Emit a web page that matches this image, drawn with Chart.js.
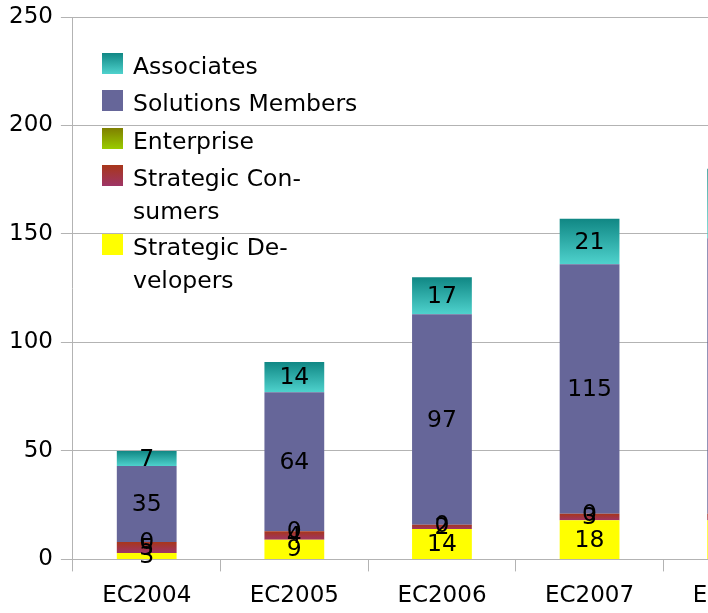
<!DOCTYPE html>
<html>
<head>
<meta charset="utf-8">
<script src="https://cdn.jsdelivr.net/npm/chart.js@4"></script>
<style>
  html, body { margin: 0; padding: 0; background: #fff; overflow: hidden; }
  #wrap { width: 708px; height: 613px; overflow: hidden; }
</style>
</head>
<body>
<div id="wrap"><canvas id="memberchart" width="830" height="613"></canvas></div>
<script>
const categories = ['EC2004', 'EC2005', 'EC2006', 'EC2007', 'EC2008'];
const developers = [3, 9, 14, 18, 18];
const consumers = [5, 4, 2, 3, 3];
const enterprise = [0, 0, 0, 0, 0];
const solutions = [35, 64, 97, 115, 127];
const associates = [7, 14, 17, 21, 32];
const yTicks = [0, 50, 100, 150, 200, 250];

const FONT = '"DejaVu Sans", sans-serif';
const series = [developers, consumers, enterprise, solutions, associates];

// vertical gradient over one stacked segment
function segGradient(top, bottom) {
  return function (ctx) {
    const chart = ctx.chart;
    const y = chart.scales && chart.scales.y;
    if (!y || ctx.dataIndex === undefined) return bottom;
    let base = 0;
    for (let i = 0; i < ctx.datasetIndex; i++) base += series[i][ctx.dataIndex];
    const y0 = y.getPixelForValue(base + series[ctx.datasetIndex][ctx.dataIndex]);
    const y1 = y.getPixelForValue(base);
    if (!isFinite(y0) || !isFinite(y1) || y0 === y1) return bottom;
    const g = chart.ctx.createLinearGradient(0, y0, 0, y1);
    g.addColorStop(0, top);
    g.addColorStop(1, bottom);
    return g;
  };
}

const legendItems = [
  { lines: ['Associates'], top: '#108784', bottom: '#4fd2cd', y: 53 },
  { lines: ['Solutions Members'], top: '#666699', bottom: '#666699', y: 90 },
  { lines: ['Enterprise'], top: '#7f7f00', bottom: '#99cc00', y: 128 },
  { lines: ['Strategic Con-', 'sumers'], top: '#a8361a', bottom: '#9e3566', y: 165 },
  { lines: ['Strategic De-', 'velopers'], top: '#ffff00', bottom: '#ffff00', y: 234 }
];

const labelsAndLegend = {
  id: 'labelsAndLegend',
  afterDatasetsDraw(chart) {
    const c = chart.ctx;
    c.save();
    c.font = '23.5px ' + FONT;
    c.fillStyle = '#000';
    c.textAlign = 'center';
    c.textBaseline = 'middle';
    chart.data.datasets.forEach((ds, di) => {
      chart.getDatasetMeta(di).data.forEach((bar, i) => {
        c.fillText(String(ds.data[i]), bar.x, (bar.y + bar.base) / 2 + 1);
      });
    });
    // legend inside the plot
    c.textAlign = 'left';
    c.textBaseline = 'alphabetic';
    legendItems.forEach(item => {
      const g = c.createLinearGradient(0, item.y, 0, item.y + 21);
      g.addColorStop(0, item.top);
      g.addColorStop(1, item.bottom);
      c.fillStyle = g;
      c.fillRect(102, item.y, 21, 21);
      c.fillStyle = '#000';
      item.lines.forEach((t, k) => c.fillText(t, 133, item.y + 21 + k * 33));
    });
    c.restore();
  }
};

new Chart(document.getElementById('memberchart'), {
  type: 'bar',
  plugins: [labelsAndLegend],
  data: {
    labels: categories,
    datasets: [
      { label: 'Strategic Developers', data: developers, backgroundColor: '#ffff00' },
      { label: 'Strategic Consumers', data: consumers, backgroundColor: segGradient('#a8361a', '#9e3566') },
      { label: 'Enterprise', data: enterprise, backgroundColor: segGradient('#7f7f00', '#99cc00') },
      { label: 'Solutions Members', data: solutions, backgroundColor: '#666699' },
      { label: 'Associates', data: associates, backgroundColor: segGradient('#108784', '#4fd2cd') }
    ]
  },
  options: {
    responsive: false,
    animation: false,
    layout: { padding: { top: 17, left: 1, right: 19, bottom: -8 } },
    datasets: {
      bar: { barPercentage: 1, categoryPercentage: 0.405, borderWidth: 0 }
    },
    plugins: {
      legend: { display: false },
      tooltip: { enabled: false }
    },
    scales: {
      x: {
        stacked: true,
        border: { color: '#b3b3b3', width: 1 },
        grid: { offset: true, drawOnChartArea: false, color: '#b3b3b3', tickLength: 12 },
        ticks: { color: '#000', font: { family: FONT, size: 23 }, padding: 11, maxRotation: 0 }
      },
      y: {
        stacked: true,
        min: 0,
        max: 250,
        afterBuildTicks(scale) { scale.ticks = yTicks.map(v => ({ value: v })); },
        afterFit(scale) { scale.paddingTop = 0; },
        border: { color: '#b3b3b3', width: 1 },
        grid: { color: '#b3b3b3', tickLength: 12 },
        ticks: { color: '#000', font: { family: FONT, size: 23 }, padding: 8 }
      }
    }
  }
});
</script>
</body>
</html>
